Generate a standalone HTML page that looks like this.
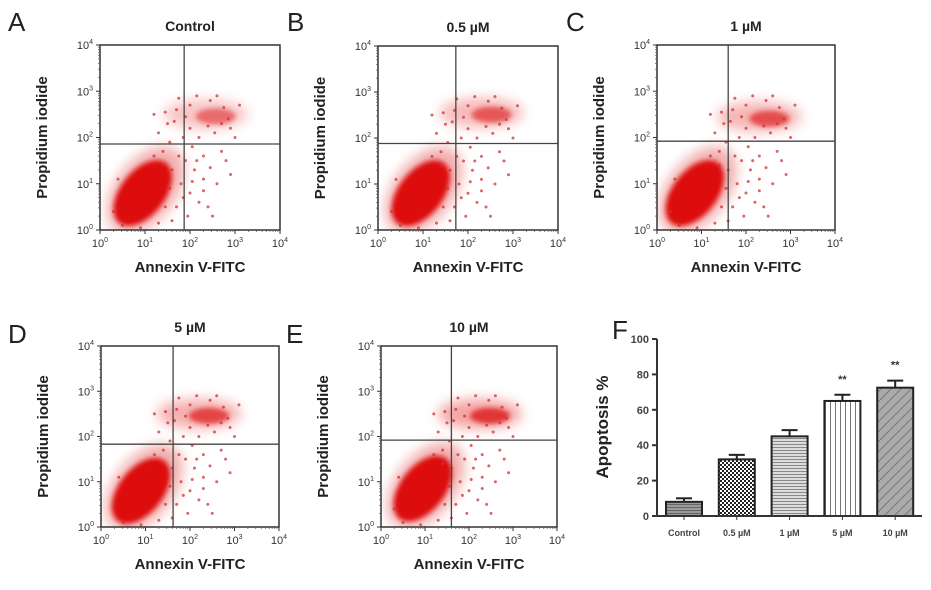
<!DOCTYPE html>
<html><head><meta charset="utf-8">
<style>
html,body{margin:0;padding:0;background:#fff;}
svg{display:block;font-family:"Liberation Sans",sans-serif;}
</style></head>
<body>
<svg id="fig" width="931" height="590" viewBox="0 0 931 590">
<defs>
<filter id="blur2" x="-50%" y="-50%" width="200%" height="200%"><feGaussianBlur stdDeviation="2.5"/></filter>
<filter id="blur5" x="-50%" y="-50%" width="200%" height="200%"><feGaussianBlur stdDeviation="6"/></filter>
<pattern id="pat-ctrl" width="4" height="3" patternUnits="userSpaceOnUse"><rect width="4" height="3" fill="#999"/><rect width="4" height="1" fill="#666"/></pattern>
<pattern id="pat-05" width="4" height="4" patternUnits="userSpaceOnUse"><rect width="4" height="4" fill="#fff"/><rect width="2" height="2" fill="#222"/><rect x="2" y="2" width="2" height="2" fill="#222"/></pattern>
<pattern id="pat-1" width="4" height="3" patternUnits="userSpaceOnUse"><rect width="4" height="3" fill="#ddd"/><rect width="4" height="1" fill="#888"/></pattern>
<pattern id="pat-5" width="5" height="4" patternUnits="userSpaceOnUse"><rect width="5" height="4" fill="#fff"/><rect width="1" height="4" fill="#777"/></pattern>
<pattern id="pat-10" width="10" height="10" patternUnits="userSpaceOnUse"><rect width="10" height="10" fill="#aaa"/><path d="M0 10 L10 0" stroke="#777" stroke-width="1"/></pattern>
</defs>
<g id="panels"></g>
<g id="barchart"></g>
</svg>
<script>
// ----- flow cytometry panels -----
const panelLetters = ['A','B','C','D','E'];
const panelTitles = ['Control','0.5 µM','1 µM','5 µM','10 µM'];
const quadX = [1.87, 1.73, 1.6, 1.62, 1.6];      // log10 Annexin gate
const quadY = [1.86, 1.88, 1.92, 1.83, 1.92];    // log10 PI gate
const liveCluster = [[0.95,0.8],[0.95,0.8],[0.85,0.8],[0.9,0.8],[0.95,0.85]]; // log center
const lateCluster = [[2.35,2.5],[2.3,2.55],[2.3,2.45],[2.2,2.5],[2.25,2.5]];
const lateStrength = [0.55,0.65,0.7,0.75,0.85];
const scatterPts = [[1.5,2.3],[1.3,2.1],[1.7,2.6],[2.0,2.7],[1.9,1.5],[2.1,1.3],[2.3,1.1],[2.0,0.8],[2.2,0.6],[2.4,0.5],[2.6,1.0],[2.8,1.5],[2.9,1.2],[2.7,1.7],[3.0,2.0],[1.8,1.0],[1.6,1.3],[1.95,0.3],[2.5,0.3],[1.4,1.7],[2.2,2.0],[2.6,2.9],[2.9,2.2],[1.2,2.5],[3.1,2.7],[2.05,1.8],[1.85,2.0],[2.3,1.6],[1.7,0.5],[2.55,2.1],[1.75,2.85],[2.15,2.9],[2.45,2.8],[2.75,2.65],[2.85,2.4],[1.65,2.35],[1.45,2.55],[2.0,2.2],[2.4,2.25],[2.7,2.3],[1.9,2.45],[1.55,1.9],[1.75,1.6],[2.15,1.5],[2.45,1.35],[2.05,1.05],[1.85,0.7],[2.3,0.85],[1.6,0.2],[0.5,0.1],[0.9,0.05],[1.3,0.15],[0.3,0.4],[0.4,1.1],[1.2,1.6],[1.4,1.4],[1.55,0.9],[1.45,0.5]];

const boxes = [[100,45,280,230],[378,46,558,230],[657,45,835,230],[101,346,279,527],[381,346,557,527]];
const letterPos = [[8,31],[287,31],[566,31],[8,343],[286,343]];

const NS='http://www.w3.org/2000/svg';
function mk(tag, attrs, parent){const e=document.createElementNS(NS,tag);for(const k in attrs)e.setAttribute(k,attrs[k]);if(parent)parent.appendChild(e);return e;}
const panelsG=document.getElementById('panels');
const defs=document.querySelector('defs');

boxes.forEach((b,i)=>{
  const [x0,y0,x1,y1]=b;
  const sx=v=>x0+(x1-x0)*v/4, sy=v=>y1-(y1-y0)*v/4;
  const cp=mk('clipPath',{id:'clip'+i},defs);
  mk('rect',{x:x0,y:y0,width:x1-x0,height:y1-y0},cp);
  const g=mk('g',{},panelsG);
  
  
  const L=mk('text',{x:letterPos[i][0],y:letterPos[i][1],'font-size':26,fill:'#222'},g);L.textContent=panelLetters[i];
  
  
  const T=mk('text',{x:(x0+x1)/2,y:y0-14,'font-size':14,'font-weight':'bold','text-anchor':'middle',fill:'#222'},g);T.textContent=panelTitles[i];
  
  
  const pg=mk('g',{'clip-path':'url(#clip'+i+')'},g);
  // clusters
  const c=liveCluster[i];
  const cx=sx(c[0]),cy=sy(c[1]);
  mk('ellipse',{cx:cx+3,cy:cy-3,rx:50,ry:30,transform:`rotate(-52 ${cx+3} ${cy-3})`,fill:'#e86a6a',opacity:0.55,filter:'url(#blur5)'},pg);
  const lc=mk('ellipse',{cx:cx,cy:cy,rx:38,ry:22,transform:`rotate(-52 ${cx} ${cy})`,fill:'#dd1111',filter:'url(#blur2)'},pg);
  
  
  const l=lateCluster[i];
  const lx=sx(l[0]),ly=sy(l[1]);
  mk('ellipse',{cx:lx,cy:ly,rx:42,ry:15,fill:'#e66',opacity:lateStrength[i]*0.7,filter:'url(#blur5)'},pg);
  const la=mk('ellipse',{cx:lx+10,cy:ly+2,rx:20,ry:8,fill:'#d22',opacity:lateStrength[i],filter:'url(#blur2)'},pg);
  
  
  scatterPts.forEach(p=>{
    const d=mk('circle',{cx:sx(p[0]),cy:sy(p[1]),r:1.5,fill:'#c33',opacity:0.75},pg);
    
    
  });
  // box
  mk('rect',{x:x0,y:y0,width:x1-x0,height:y1-y0,fill:'none',stroke:'#333','stroke-width':1.5},g);
  mk('line',{x1:sx(quadX[i]),x2:sx(quadX[i]),y1:y0,y2:y1,stroke:'#444','stroke-width':1.3},g);
  mk('line',{x1:x0,x2:x1,y1:sy(quadY[i]),y2:sy(quadY[i]),stroke:'#444','stroke-width':1.3},g);
  // ticks
  for(let d=0;d<=4;d++){
    mk('line',{x1:x0-4,x2:x0,y1:sy(d),y2:sy(d),stroke:'#333'},g);
    mk('line',{x1:sx(d),x2:sx(d),y1:y1,y2:y1+4,stroke:'#333'},g);
    const ty=mk('text',{x:x0-7,y:sy(d)+4,'font-size':11,'text-anchor':'end',fill:'#333'},g);
    ty.innerHTML='10<tspan dy="-5" font-size="7">'+d+'</tspan>';
    
    
    const tx=mk('text',{x:sx(d),y:y1+17,'font-size':11,'text-anchor':'middle',fill:'#333'},g);
    tx.innerHTML='10<tspan dy="-5" font-size="7">'+d+'</tspan>';
    
    
    if(d<4){for(let m=2;m<10;m++){const v=d+Math.log10(m);
      mk('line',{x1:x0-2,x2:x0,y1:sy(v),y2:sy(v),stroke:'#555','stroke-width':0.7},g);
      mk('line',{x1:sx(v),x2:sx(v),y1:y1,y2:y1+2,stroke:'#555','stroke-width':0.7},g);}}
  }
  const xt=mk('text',{x:(x0+x1)/2,y:y1+42,'font-size':15,'font-weight':'bold','text-anchor':'middle',fill:'#222'},g);xt.textContent='Annexin V-FITC';
  
  
  const yx=x0-53, yy=(y0+y1)/2;
  const yt=mk('text',{x:yx,y:yy,'font-size':15,'font-weight':'bold','text-anchor':'middle',fill:'#222',transform:`rotate(-90 ${yx} ${yy})`},g);yt.textContent='Propidium iodide';
  
  
});

// ----- bar chart F -----
const barCats = ['Control','0.5 µM','1 µM','5 µM','10 µM'];
const barVals = [8, 32, 45, 65, 72.5];
const barErr = [2, 2.5, 3.5, 3.5, 4];
const barSig = ['', '', '', '**', '**'];
const yTicks = [0,20,40,60,80,100];
const pats = ['pat-ctrl','pat-05','pat-1','pat-5','pat-10'];

const bg=document.getElementById('barchart');
const ax0=657, ax1=922, ay0=516, ay1=339;
const by=v=>ay0-(ay0-ay1)*v/100;
const bx=i=>684+i*52.8;
const F=mk('text',{x:612,y:339,'font-size':26,fill:'#222'},bg);F.textContent='F';


barVals.forEach((v,i)=>{
  const w=36,x=bx(i)-w/2;
  const r=mk('rect',{x:x,y:by(v),width:w,height:ay0-by(v),fill:'url(#'+pats[i]+')',stroke:'#222','stroke-width':2},bg);
  
  
  const e=barErr[i];
  mk('line',{x1:bx(i),x2:bx(i),y1:by(v),y2:by(v+e),stroke:'#222','stroke-width':2},bg);
  mk('line',{x1:bx(i)-8,x2:bx(i)+8,y1:by(v+e),y2:by(v+e),stroke:'#222','stroke-width':2},bg);
  if(barSig[i]){const s=mk('text',{x:bx(i),y:by(v+e)-12,'font-size':11,'font-weight':'bold','text-anchor':'middle',fill:'#333'},bg);s.textContent=barSig[i];
    
    }
  mk('line',{x1:bx(i),x2:bx(i),y1:ay0,y2:ay0+4,stroke:'#333'},bg);
  const t=mk('text',{x:bx(i),y:ay0+20,'font-size':9,'font-weight':'bold','text-anchor':'middle',fill:'#444'},bg);t.textContent=barCats[i];
  
  
});
mk('line',{x1:ax0,x2:ax0,y1:ay1,y2:ay0,stroke:'#333','stroke-width':2},bg);
mk('line',{x1:ax0,x2:ax1,y1:ay0,y2:ay0,stroke:'#333','stroke-width':2},bg);
yTicks.forEach(v=>{
  mk('line',{x1:ax0-5,x2:ax0,y1:by(v),y2:by(v),stroke:'#333','stroke-width':2},bg);
  const t=mk('text',{x:ax0-8,y:by(v)+4,'font-size':11,'font-weight':'bold','text-anchor':'end',fill:'#444'},bg);t.textContent=v;
  
  
});
const at=mk('text',{x:608,y:427,'font-size':17,'font-weight':'bold','text-anchor':'middle',fill:'#222',transform:'rotate(-90 608 427)'},bg);at.textContent='Apoptosis %';


</script>
</body></html>
